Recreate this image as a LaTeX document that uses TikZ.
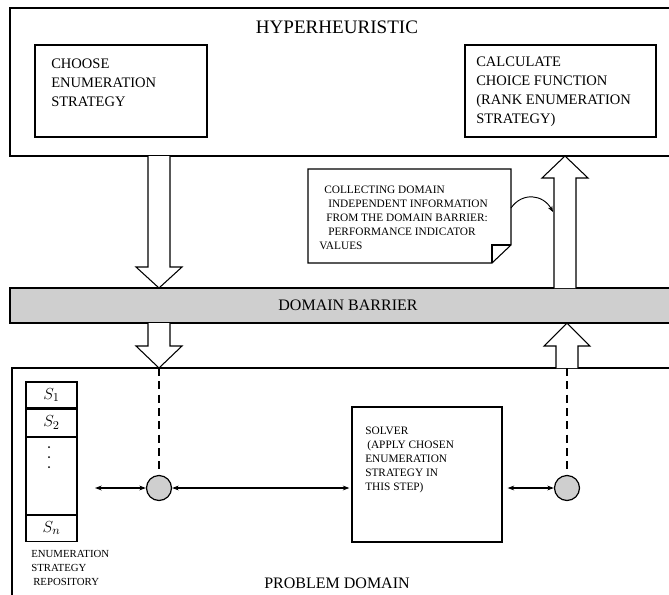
\documentclass[tikz,border=0pt]{standalone}
\usepackage{fontspec}
\setmainfont{Liberation Serif}
\usetikzlibrary{arrows.meta,positioning}

\definecolor{barriergray}{RGB}{207,207,207}

\tikzset{
  box/.style={draw, line width=0.9pt, inner sep=0pt},
  boxtext/.style={anchor=west, inner sep=0.75pt, align=left, font=\fontsize{10.9}{14.25}\selectfont},
  smalltext/.style={anchor=west, inner sep=0.75pt, align=left, font=\fontsize{8.5}{10.5}\selectfont},
  titletext/.style={inner sep=0.75pt, font=\fontsize{12}{14}\selectfont},
  cell/.style={draw, line width=0.8pt, minimum width=38.25pt, minimum height=19.5pt, inner sep=0pt, font=\fontsize{12.5}{14}\selectfont},
  selector/.style={circle, draw, line width=0.9pt, fill=barriergray, minimum size=18.75pt, inner sep=0pt},
  blockarrow/.style={draw, fill=white, line width=0.8pt},
  linkarrow/.style={{Stealth[length=5pt,width=3.6pt]}-{Stealth[length=5pt,width=3.6pt]}, line width=1pt},
  feedline/.style={dash pattern=on 6pt off 4pt, line width=1.4pt},
}

\begin{document}
\begin{tikzpicture}[x=0.75pt,y=0.75pt,yscale=-1,xscale=1]
\clip (0,0) rectangle (669,594);

%Hyperheuristic level
\draw [line width=0.9pt] (10,8) rectangle (690,156) ;
\node [titletext, font=\fontsize{14.3}{17}\selectfont] (hyper) at (337,27) {HYPERHEURISTIC};
\node [box, minimum width=129pt, minimum height=69pt] (choose) at (121,91) {};
\node [boxtext] (choosetxt) at (50,83) {CHOOSE\\ENUMERATION\\STRATEGY};
\node [box, minimum width=143.25pt, minimum height=69pt] (calc) at (560.5,91) {};
\node [boxtext] (calctxt) at (475,91.5) {CALCULATE\\CHOICE FUNCTION\\(RANK ENUMERATION\\STRATEGY)};

%Domain barrier
\draw [line width=0.9pt, fill=barriergray] (10,288) rectangle (690,323) ;
\node [titletext] (barrier) at (348,305.5) {DOMAIN BARRIER};

%Problem domain
\draw [line width=0.9pt] (12,368) rectangle (690,620) ;
\node [titletext] (problem) at (337,583) {PROBLEM DOMAIN};

%Block arrows down / up
\foreach \ya/\yb/\yc in {156/267/288, 323/346/368}
  \draw [blockarrow] (148,\ya) -- (148,\yb) -- (136,\yb) -- (159,\yc) -- (182,\yb) -- (170,\yb) -- (170,\ya) ;
\draw [blockarrow] (554,288) -- (554,178) -- (542,178) -- (565,156) -- (588,178) -- (576,178) -- (576,288) ;
\draw [blockarrow] (556,368) -- (556,346) -- (544,346) -- (567,323) -- (590,346) -- (578,346) -- (578,368) ;

%Note with folded corner
\draw [line width=0.8pt, fill=white] (308,169) -- (511,169) -- (511,245) -- (492,263) -- (308,263) -- cycle ;
\draw [line width=0.8pt] (492,263) -- (492,245) -- (511,245) ;
\node [smalltext] (note) at (318,217.5) {\hspace*{3.75pt}COLLECTING DOMAIN\\\hspace*{6.75pt}INDEPENDENT INFORMATION\\\hspace*{5.25pt}FROM THE DOMAIN BARRIER:\\\hspace*{6.75pt}PERFORMANCE INDICATOR\\VALUES};
\coordinate (noteout) at (511,208);
\coordinate (shaftin) at (553,212);
\draw [-{Stealth[length=4.5pt,width=3.5pt]}, line width=0.7pt] (noteout) .. controls (522,192) and (543,194) .. (shaftin) ;

%Strategy repository
\node [cell] (s1) at (51.5,395) {$S_1$};
\node [cell, minimum height=20.25pt, below=0pt of s1] (s2) {$S_2$};
\node [cell, minimum height=57.75pt, below=0pt of s2] (sdots) {};
\node [cell, below=0pt of sdots] (sn) {$S_n$};
\foreach \y in {447,457,467}
  \fill (49,\y) circle (0.75pt) ;
\node [anchor=west, inner sep=0.75pt, align=left, font=\fontsize{8.1}{10.5}\selectfont] (repo) at (30,568) {ENUMERATION\\STRATEGY\\\hspace*{1.5pt}REPOSITORY};

%Selectors and solver
\node [selector] (selL) at (159,488) {};
\node [selector] (selR) at (567,488) {};
\node [box, minimum width=112.5pt, minimum height=101.25pt] (solver) at (427,474.5) {};
\node [smalltext] (solvertxt) at (364,460) {SOLVER\\\hspace*{1.5pt}(APPLY CHOSEN\\ENUMERATION\\STRATEGY IN\\THIS STEP)};

\coordinate (dropL) at (159,368);
\coordinate (dropR) at (567,368);
\coordinate (repoport) at (95,488);
\draw [feedline] (dropL) -- (selL.north) ;
\draw [feedline] (dropR) -- (selR.north) ;
\draw [linkarrow] (repoport) -- (selL.west) ;
\draw [linkarrow] (selL.east) -- ([xshift=-1.5pt]selL -| solver.west) ;
\draw [linkarrow] ([xshift=3.75pt]selR -| solver.east) -- (selR.west) ;

\end{tikzpicture}
\end{document}
